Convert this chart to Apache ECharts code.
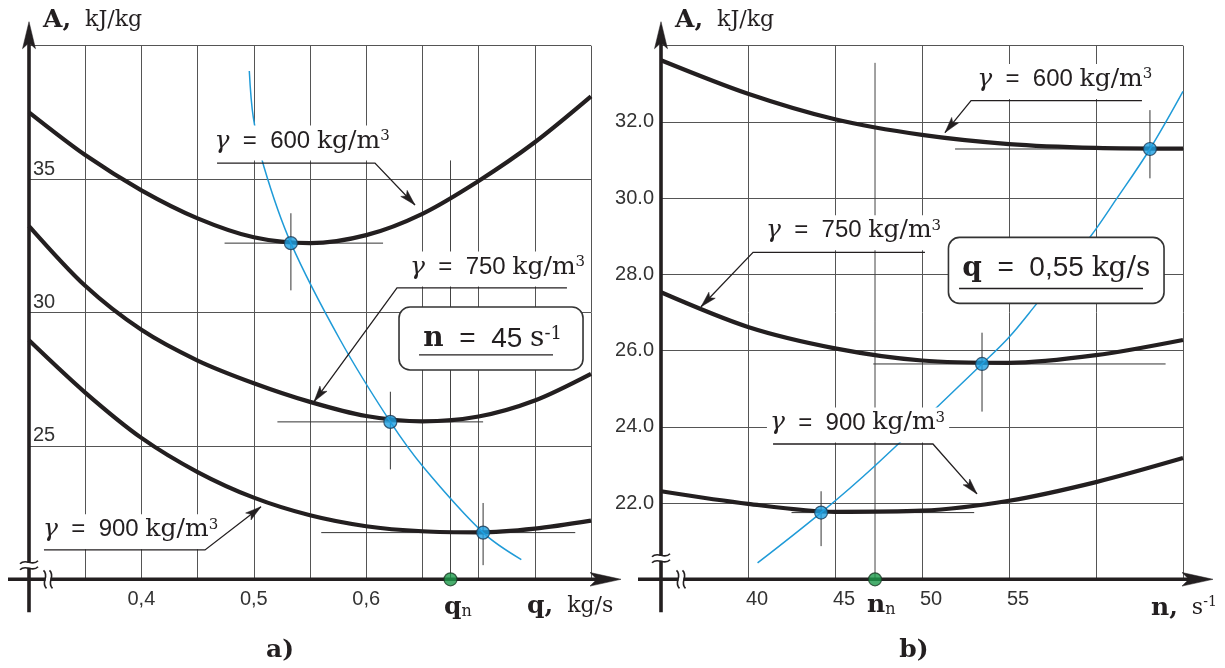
<!DOCTYPE html>
<html><head><meta charset="utf-8">
<script src="https://cdn.jsdelivr.net/npm/echarts@6/dist/echarts.min.js"></script>
<style>html,body{margin:0;padding:0;background:#fff;}#c{width:1225px;height:668px;}</style>
</head><body><div id="c"></div>
<script>
// ---------- Panel a: A(q) at n = 45 s^-1 ----------
const qValues = [0.30, 0.35, 0.40, 0.45, 0.50, 0.55, 0.60, 0.65, 0.70, 0.75, 0.80];
const A600_q  = [37.5, 35.9, 34.58, 33.53, 32.82, 32.6, 32.9, 33.7, 34.93, 36.38, 38.1];
const A750_q  = [33.24, 31.0, 29.35, 28.2, 27.35, 26.65, 26.12, 25.92, 26.1, 26.7, 27.7];
const A900_q  = [28.96, 27.0, 25.3, 24.02, 23.06, 22.4, 21.99, 21.8, 21.76, 21.9, 22.2];
const nLineQ  = [0.496, 0.4996, 0.509, 0.533, 0.577, 0.6215, 0.651, 0.704, 0.738];
const nLineA  = [39.05, 37.3, 35.46, 32.6, 28.96, 25.9, 24.2, 21.75, 20.74];
const opQ     = [0.533, 0.6215, 0.704];
const opA_q   = [32.6, 25.9, 21.75];
const qNominal = 0.675;
const qTickText = {'0.40':'0,4', '0.50':'0,5', '0.60':'0,6'};
const ATicksA = [25, 30, 35];

// ---------- Panel b: A(n) at q = 0,55 kg/s ----------
const nValues = [35, 40, 45, 50, 55, 60, 65];
const A600_n  = [33.62, 32.74, 32.07, 31.66, 31.42, 31.32, 31.3];
const A750_n  = [27.53, 26.62, 26.06, 25.74, 25.68, 25.88, 26.28];
const A900_n  = [22.31, 21.98, 21.77, 21.8, 22.06, 22.55, 23.18];
const qLineN  = [40.55, 44.2, 47.3, 53.45, 55, 56.57, 59.66, 61.15, 63.1, 65];
const qLineA  = [20.43, 21.75, 22.98, 25.65, 26.35, 27.22, 28.98, 29.96, 31.29, 32.8];
const opN     = [44.2, 53.45, 63.1];
const opA_n   = [21.75, 25.65, 31.29];
const nNominal = 47.3;
const nTickText = {'40':'40', '45':'45', '50':'50', '55':'55'};
const ATicksB = [22, 24, 26, 28, 30, 32];

// crosshair extents through the operating points (same order as the points)
const crossHq = [[0.474, 0.615], [0.521, 0.704], [0.56, 0.786]];
const crossVq = [[30.83, 33.72], [24.12, 27.03], [20.53, 22.86]];
const crossHn = [[42.5, 53.0], [47.2, 64.0], [51.9, 65.4]];
const crossVn = [[20.87, 22.31], [24.4, 26.47], [30.52, 32.31]];
const qNominalTop = 35.7, nNominalTop = 33.55;

const INK = '#231f20', GRIDC = '#555', BLUE = '#1f9bd8';
const SANS = '"Liberation Sans", Arial, sans-serif';
const SERIF = '"DejaVu Serif", serif';

const zip = (xs, ys) => xs.map((x, i) => [x, ys[i]]);
const chart = echarts.init(document.getElementById('c'));

const series = [];
function curve(g, xs, ys) {
  series.push({type:'line', xAxisIndex:g, yAxisIndex:g, data:zip(xs, ys), smooth:0.3, symbol:'none', silent:true,
    lineStyle:{color:INK, width:4.2}, z:5});
}
function thin(g, data, color, w, z) {
  series.push({type:'line', xAxisIndex:g, yAxisIndex:g, data, symbol:'none', silent:true,
    lineStyle:{color, width:w}, z});
}
function dots(g, data, color, border) {
  series.push({type:'scatter', xAxisIndex:g, yAxisIndex:g, data, symbolSize:13, silent:true,
    itemStyle:{color, borderColor:border, borderWidth:1.2}, z:12});
}
// panel a
opQ.forEach((x, i) => { thin(0, [[crossHq[i][0], opA_q[i]], [crossHq[i][1], opA_q[i]]], '#333', 1, 3);
  thin(0, [[x, crossVq[i][0]], [x, crossVq[i][1]]], '#333', 1, 3); });
thin(0, [[qNominal, 20], [qNominal, qNominalTop]], '#444', 1, 3);
curve(0, qValues, A600_q); curve(0, qValues, A750_q); curve(0, qValues, A900_q);
series.push({type:'line', xAxisIndex:0, yAxisIndex:0, data:zip(nLineQ, nLineA), smooth:0.35, symbol:'none', silent:true, lineStyle:{color:BLUE, width:1.5}, z:6});
dots(0, zip(opQ, opA_q), '#1ea0e2', '#1b3a55');
dots(0, [[qNominal, 20]], '#1b9a4a', '#1d3b27');
// panel b
opN.forEach((x, i) => { thin(1, [[crossHn[i][0], opA_n[i]], [crossHn[i][1], opA_n[i]]], '#333', 1, 3);
  thin(1, [[x, crossVn[i][0]], [x, crossVn[i][1]]], '#333', 1, 3); });
thin(1, [[nNominal, 20], [nNominal, nNominalTop]], '#444', 1, 3);
curve(1, nValues, A600_n); curve(1, nValues, A750_n); curve(1, nValues, A900_n);
series.push({type:'line', xAxisIndex:1, yAxisIndex:1, data:zip(qLineN, qLineA), smooth:0.35, symbol:'none', silent:true, lineStyle:{color:BLUE, width:1.5}, z:6});
dots(1, zip(opN, opA_n), '#1ea0e2', '#1b3a55');
dots(1, [[nNominal, 20]], '#1b9a4a', '#1d3b27');

const splitL = {show:true, lineStyle:{color:GRIDC, width:1}};
const option = {
  animation:false,
  backgroundColor:'#fff',
  grid:[{left:29, top:45.7, width:562, height:533.6}, {left:661, top:45.7, width:522, height:533.6}],
  xAxis:[
    {gridIndex:0, type:'value', min:0.3, max:0.8, interval:0.05, axisLine:{show:false}, axisTick:{show:false}, splitLine:splitL,
     axisLabel:{formatter:v => qTickText[v.toFixed(2)] || '', fontSize:20, fontFamily:SANS, color:'#333', margin:10}},
    {gridIndex:1, type:'value', min:35, max:65, interval:5, axisLine:{show:false}, axisTick:{show:false}, splitLine:splitL,
     axisLabel:{formatter:v => nTickText[String(Math.round(v))] || '', fontSize:20, fontFamily:SANS, color:'#333', margin:10, padding:[0,0,0,18]}}
  ],
  yAxis:[
    {gridIndex:0, type:'value', min:20, max:40, interval:5, axisLine:{show:false}, axisTick:{show:false}, splitLine:splitL,
     axisLabel:{inside:true, verticalAlign:'bottom', margin:4, formatter:v => ATicksA.includes(v) ? String(v) : '', fontSize:20, fontFamily:SANS, color:'#333'}},
    {gridIndex:1, type:'value', min:20, max:34, interval:2, axisLine:{show:false}, axisTick:{show:false}, splitLine:splitL,
     axisLabel:{margin:7, formatter:v => ATicksB.includes(Math.round(v)) ? v.toFixed(1) : '', fontSize:20, fontFamily:SANS, color:'#333'}}
  ],
  series
};
chart.setOption(option);

// ---------- annotations (anchors in data units) ----------
const rich = {
  g:{fontFamily:SERIF, fontStyle:'italic', fontSize:25, fill:INK, color:INK},
  e:{fontFamily:SANS, fontSize:24, fill:INK, color:INK},
  u:{fontFamily:SERIF, fontSize:25, fill:INK, color:INK},
  s:{fontFamily:SERIF, fontSize:15, fill:INK, color:INK, verticalAlign:'top'},
  B:{fontFamily:SERIF, fontWeight:'bold', fontSize:28, fill:INK, color:INK},
  E:{fontFamily:SANS, fontSize:28, fill:INK, color:INK},
  U:{fontFamily:SERIF, fontSize:28, fill:INK, color:INK},
  S:{fontFamily:SERIF, fontSize:18, fill:INK, color:INK, verticalAlign:'top'},
  t:{fontFamily:SERIF, fontWeight:'bold', fontSize:25, fill:INK, color:INK},
  k:{fontFamily:SERIF, fontSize:22, fill:INK, color:INK},
  ks:{fontFamily:SERIF, fontSize:14, fill:INK, color:INK, verticalAlign:'top'},
  sub:{fontFamily:SERIF, fontSize:16, fill:INK, color:INK, verticalAlign:'bottom'}
};
const gammaLabels = [
  {g:0, txt:'600', at:[0.4624, 36.35], line:[[0.4673, 35.6], [0.6078, 35.6], [0.6434, 34.03]]},
  {g:0, txt:'750', at:[0.6363, 31.63], line:[[0.7786, 30.92], [0.6274, 30.92], [0.5536, 26.66]]},
  {g:0, txt:'900', at:[0.3098, 21.78], line:[[0.3133, 21.1], [0.4566, 21.1], [0.5064, 22.72]]},
  {g:1, txt:'600', at:[53.0, 33.06], line:[[62.64, 32.56], [52.82, 32.56], [51.32, 31.72]]},
  {g:1, txt:'750', at:[40.86, 29.09], line:[[50.17, 28.58], [40.29, 28.58], [37.3, 27.15]]},
  {g:1, txt:'900', at:[41.09, 24.05], line:[[41.44, 23.55], [50.63, 23.55], [53.16, 22.24]]}
];
const boxes = [
  {g:0, corners:[[0.6292, 30.206], [0.7929, 27.845]], center:[0.7125, 29.0], ul:[[0.647, 28.41], [0.7662, 28.41]],
   text:'{B|n}{E|  =  45 }{U|s}{S|-1}'},
  {g:1, corners:[[51.52, 28.97], [63.91, 27.24]], center:[57.72, 28.15], ul:[[52.13, 27.63], [62.7, 27.63]],
   text:'{B|q}{E|  =  0,55 }{U|kg/s}'}
];

const P = (g, p) => chart.convertToPixel({gridIndex:g}, p);
function head(tip, from, len, half) {
  const dx = tip[0]-from[0], dy = tip[1]-from[1], L = Math.hypot(dx, dy), ux = dx/L, uy = dy/L;
  const bx = tip[0]-ux*len, by = tip[1]-uy*len;
  return {type:'polygon', z:60, shape:{points:[tip, [bx-uy*half, by+ux*half], [tip[0]-ux*len*0.78, tip[1]-uy*len*0.78], [bx+uy*half, by-ux*half]]},
    style:{fill:INK, stroke:INK, lineWidth:0.5}};
}
const G = [];
gammaLabels.forEach(a => {
  const p = P(a.g, a.at);
  G.push({type:'text', x:p[0], y:p[1], z:50, style:{text:'{g|γ}{e|  =  ' + a.txt + ' }{u|kg/m}{s|3}', rich, align:'left', verticalAlign:'middle',
    backgroundColor:'#fff', padding:[3, 4, 7, 3]}});
  const pts = a.line.map(q => P(a.g, q));
  G.push({type:'polyline', z:55, shape:{points:pts}, style:{stroke:INK, lineWidth:1.3, fill:null}});
  G.push(head(pts[2], pts[1], 16, 4.4));
});
boxes.forEach(b => {
  const c1 = P(b.g, b.corners[0]), c2 = P(b.g, b.corners[1]);
  G.push({type:'rect', z:50, shape:{x:c1[0], y:c1[1], width:c2[0]-c1[0], height:c2[1]-c1[1], r:11}, style:{fill:'#fff', stroke:'#333', lineWidth:1.6}});
  const c = P(b.g, b.center);
  G.push({type:'text', x:c[0], y:c[1], z:52, style:{text:b.text, rich, align:'center', verticalAlign:'middle'}});
  const u1 = P(b.g, b.ul[0]), u2 = P(b.g, b.ul[1]);
  G.push({type:'line', z:52, shape:{x1:u1[0], y1:u1[1], x2:u2[0], y2:u2[1]}, style:{stroke:INK, lineWidth:1.4}});
});

// axes with arrows and break marks
function axes(g, x0, x1, y0, y1, xStartOff, yBreakOff, xBreakOff) {
  const O = P(g, [x0, y0]), T = P(g, [x0, y1]), R = P(g, [x1, y0]);
  const yTip = T[1] - 24, xTip = R[0] + 30;
  G.push({type:'line', z:8, shape:{x1:O[0], y1:O[1]+33, x2:O[0], y2:yTip+20}, style:{stroke:INK, lineWidth:3.6}});
  G.push({type:'line', z:8, shape:{x1:O[0]-xStartOff, y1:O[1], x2:xTip-20, y2:O[1]}, style:{stroke:INK, lineWidth:3.6}});
  G.push(Object.assign(head([O[0], yTip], [O[0], yTip+50], 27, 6.5), {z:9}));
  G.push(Object.assign(head([xTip, O[1]], [xTip-50, O[1]], 31, 6.8), {z:9}));
  const by = O[1] - yBreakOff;
  G.push({type:'rect', z:10, shape:{x:O[0]-4, y:by-2.5, width:8, height:5}, style:{fill:'#fff'}});
  [-3, 3].forEach(d => G.push({type:'bezierCurve', z:11, shape:{x1:O[0]-9, y1:by+d+1.5, x2:O[0]+9, y2:by+d-1.5, cpx1:O[0]-3, cpy1:by+d-5, cpx2:O[0]+3, cpy2:by+d+5}, style:{stroke:INK, lineWidth:1.6, fill:null}}));
  const bx = O[0] + xBreakOff;
  G.push({type:'rect', z:10, shape:{x:bx-2.5, y:O[1]-4, width:5, height:8}, style:{fill:'#fff'}});
  [-3, 3].forEach(d => G.push({type:'bezierCurve', z:11, shape:{x1:bx+d-1.5, y1:O[1]-9, x2:bx+d+1.5, y2:O[1]+9, cpx1:bx+d+5, cpy1:O[1]-3, cpx2:bx+d-5, cpy2:O[1]+3}, style:{stroke:INK, lineWidth:1.6, fill:null}}));
}
axes(0, 0.3, 0.8, 20, 40, 21, 14, 19);
axes(1, 35, 65, 20, 34, 23, 21, 20);

// axis titles and panel letters
function txt(x, y, text, align) { G.push({type:'text', x, y, z:40, style:{text, rich, align:align || 'left', verticalAlign:'middle'}}); }
txt(43, 20, '{t|A,}{k|  kJ/kg}');
txt(675, 20, '{t|A,}{k|  kJ/kg}');
txt(527, 606, '{t|q,}{k|  kg/s}');
txt(444, 607, '{t|q}{sub|n}');
txt(1151, 608, '{t|n,}{k|  s}{ks|-1}');
txt(867, 605, '{t|n}{sub|n}');
txt(280, 650, '{t|a)}', 'center');
txt(914, 650, '{t|b)}', 'center');

chart.setOption({graphic:{elements:G}});
</script></body></html>
